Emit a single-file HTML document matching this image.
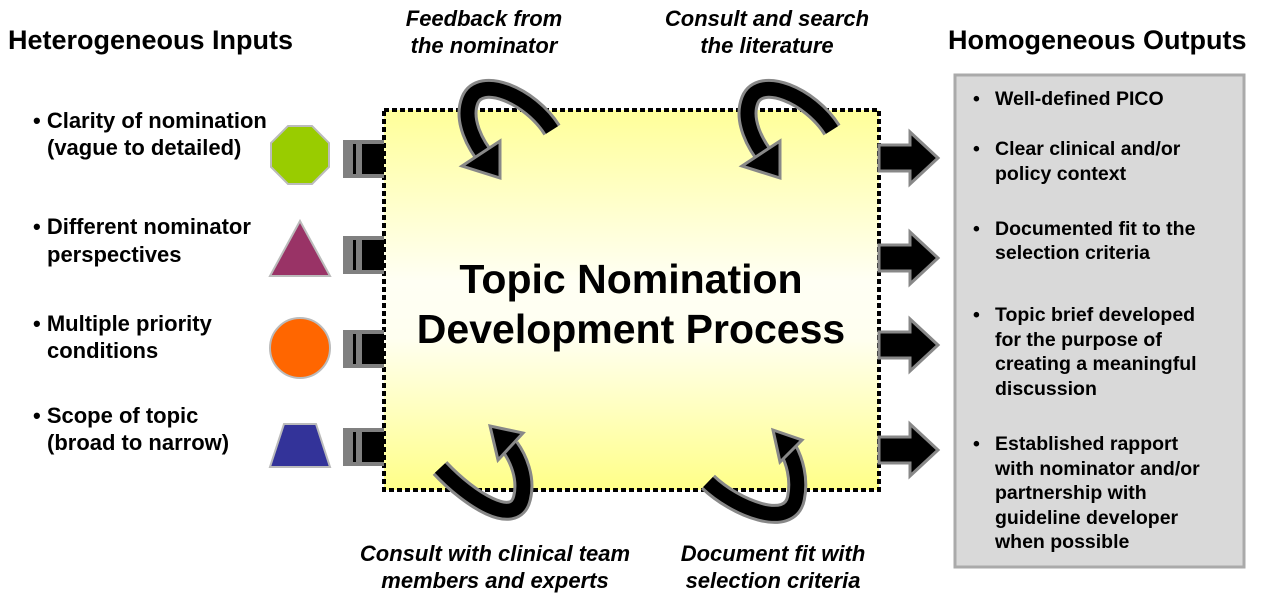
<!DOCTYPE html>
<html><head><style>
body{margin:0;width:1262px;height:605px;background:#fff;overflow:hidden}
svg text{font-family:"Liberation Sans",Arial,sans-serif;font-weight:bold;fill:#000}
</style></head><body>
<svg width="1262" height="605" viewBox="0 0 1262 605" xmlns="http://www.w3.org/2000/svg">
<defs>
<linearGradient id="g" x1="0" y1="0" x2="0" y2="1">
<stop offset="0" stop-color="#ffff99"/>
<stop offset="0.45" stop-color="#fffff4"/>
<stop offset="0.6" stop-color="#fffff0"/>
<stop offset="1" stop-color="#ffff88"/>
</linearGradient>
<g id="inarr">
<rect x="343" y="0" width="41" height="38" fill="#808080"/>
<rect x="353" y="4" width="3" height="30" fill="#000"/>
<rect x="362" y="4" width="22" height="30" fill="#000"/>
</g>
<g id="outarr">
<polygon points="879,-13 910,-13 910,-26 938,0 910,26 910,13 879,13" fill="#000" stroke="#888" stroke-width="3"/>
</g>
</defs>
<text x="8" y="49" font-size="27">Heterogeneous Inputs</text>
<text x="948" y="49" font-size="27">Homogeneous Outputs</text>
<g font-style="italic" font-size="22" text-anchor="middle">
<text x="484" y="26">Feedback from</text><text x="484" y="53">the nominator</text>
<text x="767" y="26">Consult and search</text><text x="767" y="53">the literature</text>
<text x="495" y="561">Consult with clinical team</text><text x="495" y="588">members and experts</text>
<text x="773" y="561">Document fit with</text><text x="773" y="588">selection criteria</text>
</g>
<rect x="384" y="110" width="495" height="380" fill="url(#g)" stroke="#000" stroke-width="4" stroke-dasharray="5,3"/>
<text x="631" y="293" font-size="41" text-anchor="middle">Topic Nomination</text>
<text x="631" y="343" font-size="41" text-anchor="middle">Development Process</text>
<g font-size="22">
<text x="33" y="128">• Clarity of nomination</text><text x="47" y="155">(vague to detailed)</text>
<text x="33" y="234">• Different nominator</text><text x="47" y="262">perspectives</text>
<text x="33" y="331">• Multiple priority</text><text x="47" y="358">conditions</text>
<text x="33" y="423">• Scope of topic</text><text x="47" y="450">(broad to narrow)</text>
</g>
<polygon points="288,126 312,126 329,143 329,167 312,184 288,184 271,167 271,143" fill="#99cc00" stroke="#bbb" stroke-width="2"/>
<polygon points="300,221 330,276 270,276" fill="#993366" stroke="#bbb" stroke-width="2"/>
<ellipse cx="300" cy="348" rx="30" ry="30" fill="#ff6600" stroke="#bbb" stroke-width="2"/>
<polygon points="284,424 316,424 330,467 270,467" fill="#333399" stroke="#bbb" stroke-width="2"/>
<use href="#inarr" transform="translate(0,140)"/>
<use href="#inarr" transform="translate(0,236)"/>
<use href="#inarr" transform="translate(0,330)"/>
<use href="#inarr" transform="translate(0,428)"/>
<use href="#outarr" transform="translate(0,158)"/>
<use href="#outarr" transform="translate(0,258)"/>
<use href="#outarr" transform="translate(0,345)"/>
<use href="#outarr" transform="translate(0,450)"/>
<g fill="none" stroke-linecap="butt">
<path d="M552,130 C530,95 480,75 470,100 C462,120 475,145 488,160" stroke="#888" stroke-width="20"/>
<path d="M552,130 C530,95 480,75 470,100 C462,120 475,145 488,160" stroke="#000" stroke-width="14"/>
<path d="M832,130 C810,95 760,75 750,100 C742,120 755,145 768,160" stroke="#888" stroke-width="20"/>
<path d="M832,130 C810,95 760,75 750,100 C742,120 755,145 768,160" stroke="#000" stroke-width="14"/>
<path d="M440,468 C470,500 515,528 522,498 C527,478 518,458 510,447" stroke="#888" stroke-width="20"/>
<path d="M440,468 C470,500 515,528 522,498 C527,478 518,458 510,447" stroke="#000" stroke-width="14"/>
<path d="M708,482 C735,508 790,530 796,498 C800,478 794,460 788,449" stroke="#888" stroke-width="20"/>
<path d="M708,482 C735,508 790,530 796,498 C800,478 794,460 788,449" stroke="#000" stroke-width="14"/>
</g>
<g fill="#000" stroke="#888" stroke-width="3">
<polygon points="462,166 500,141 500,178"/>
<polygon points="742,166 780,141 780,178"/>
<polygon points="490,426 523,433 498,460"/>
<polygon points="773,430 802,440 780,462"/>
</g>
<rect x="955" y="75" width="289" height="492" fill="#d9d9d9" stroke="#aaa" stroke-width="3"/>
<g font-size="19.5">
<text x="973" y="105">•</text><text x="995" y="105">Well-defined PICO</text>
<text x="973" y="155">•</text><text x="995" y="155">Clear clinical and/or</text><text x="995" y="180">policy context</text>
<text x="973" y="235">•</text><text x="995" y="235">Documented fit to the</text><text x="995" y="259">selection criteria</text>
<text x="973" y="321">•</text><text x="995" y="321">Topic brief developed</text><text x="995" y="346">for the purpose of</text><text x="995" y="370">creating a meaningful</text><text x="995" y="395">discussion</text>
<text x="973" y="450">•</text><text x="995" y="450">Established rapport</text><text x="995" y="475">with nominator and/or</text><text x="995" y="499">partnership with</text><text x="995" y="524">guideline developer</text><text x="995" y="548">when possible</text>
</g>
</svg>
</body></html>
